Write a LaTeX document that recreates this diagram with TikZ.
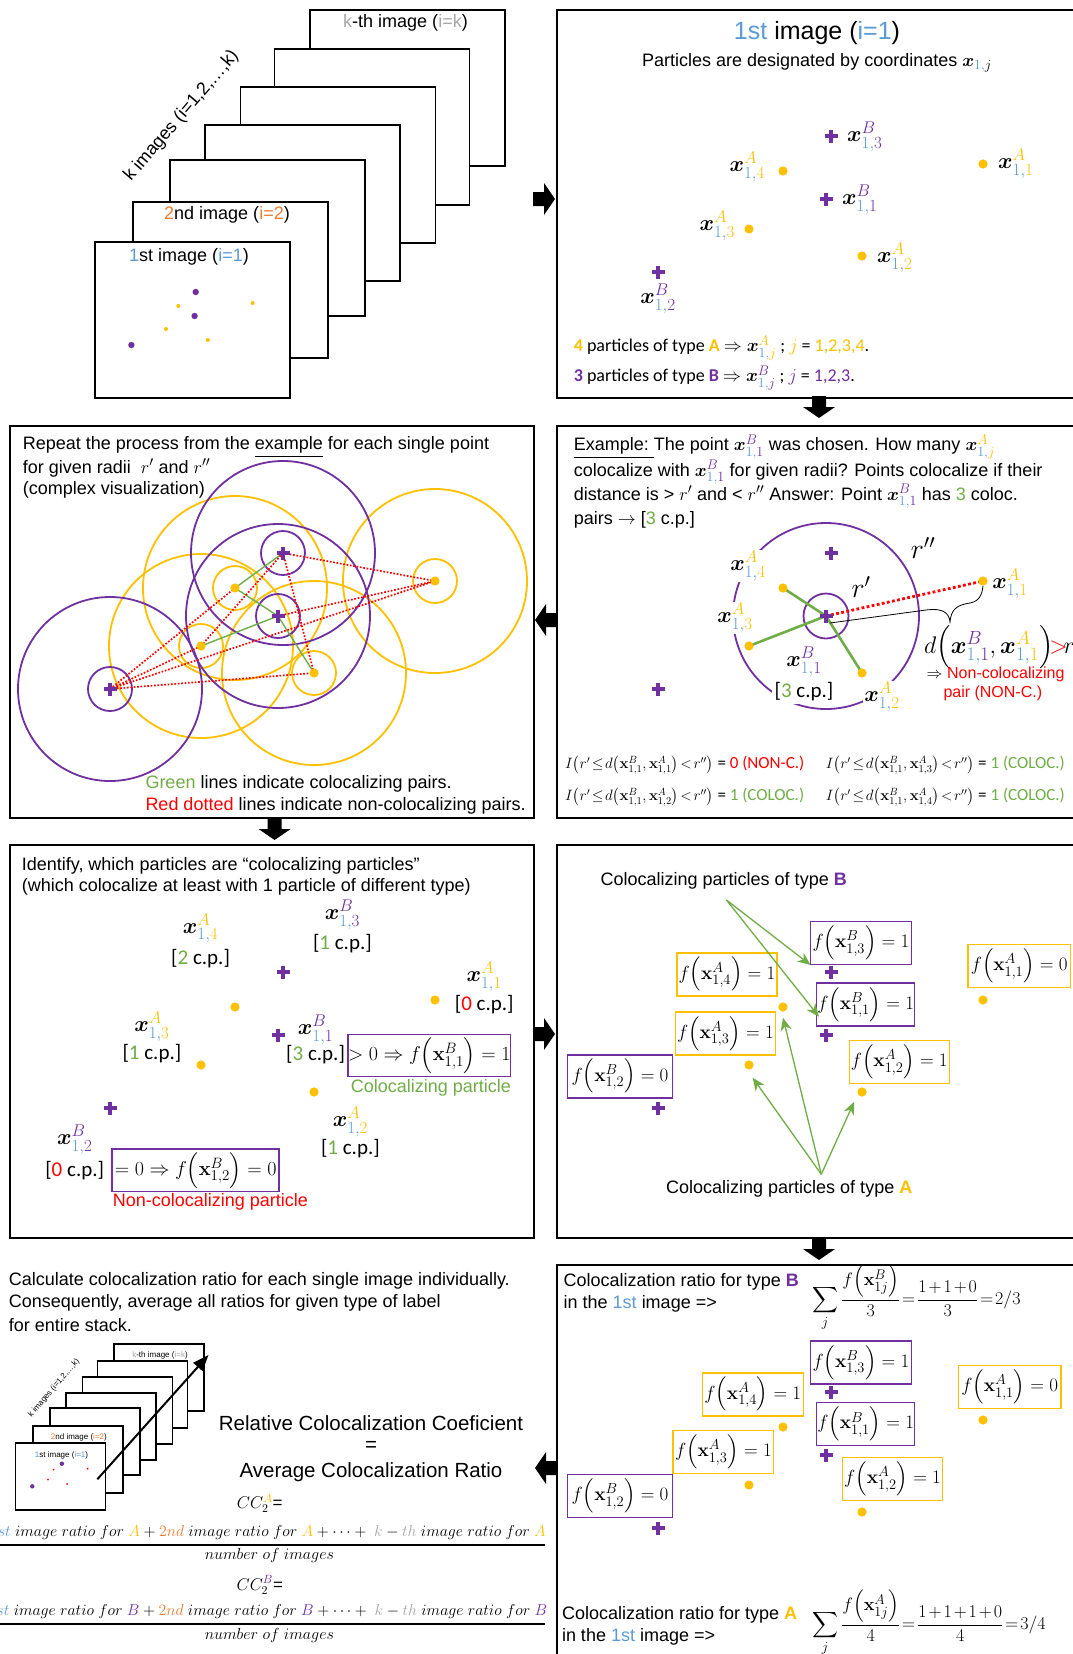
\RequirePackage{fix-cm}
\documentclass[tikz,border=0pt]{standalone}
\usepackage{amsmath,amssymb}
\usepackage[no-math]{fontspec}
\setmainfont{Liberation Sans}
\newfontfamily\calib{Carlito}
\usetikzlibrary{arrows.meta,calc}
\DeclareMathSizes{22}{22}{17}{13}
\DeclareMathSizes{18}{18}{14}{10}
\DeclareMathSizes{24}{24}{19}{14}
\DeclareMathSizes{19}{19}{14.5}{10}
\DeclareMathSizes{20}{20}{15}{11}
\definecolor{cA}{HTML}{FFC000}
\definecolor{cB}{HTML}{7030A0}
\definecolor{cBl}{HTML}{5B9BD5}
\definecolor{cOr}{HTML}{ED7D31}
\definecolor{cG}{HTML}{70AD47}
\definecolor{cGr}{HTML}{A6A6A6}
\definecolor{cR}{HTML}{FF0000}
\newcommand{\fsz}[1]{\fontsize{#1}{#1}\selectfont}
\newcommand{\tight}{\thickmuskip=2mu plus 1mu\medmuskip=2mu plus 1mu}
\newcommand{\xa}[1]{\boldsymbol{x}^{\textcolor{cA}{A}}_{\textcolor{cBl}{1,}\textcolor{cA}{#1}}}
\newcommand{\xb}[1]{\boldsymbol{x}^{\textcolor{cB}{B}}_{\textcolor{cBl}{1,}\textcolor{cB}{#1}}}
\newcommand{\fxa}[2]{$f\!\left(\mathbf{x}^{A}_{1,#1}\right)=#2$}
\newcommand{\fxb}[2]{$f\!\left(\mathbf{x}^{B}_{1,#1}\right)=#2$}
\newcommand{\cpl}[2]{{\calib\fsz{21}[\textcolor{#1}{#2} c.p.]}}
\newcommand{\Iform}[1]{$\tight I\!\left(r'\le d\!\left(\mathbf{x}^{B}_{1,1},\mathbf{x}^{A}_{1,#1}\right)<r''\right)$}
\newcommand{\numer}[2]{$\textcolor{cBl}{1st}\ image\ ratio\ for\ \textcolor{#1}{#2}+\textcolor{cOr}{2nd}\ image\ ratio\ for\ \textcolor{#1}{#2}+\cdots+\ \textcolor{cGr}{k}-\textcolor{cGr}{th}\ image\ ratio\ for\ \textcolor{#1}{#2}$}
\newcommand{\defpts}[1]{%
  \coordinate (#1b1) at (0,0);
  \coordinate (#1b3) at (5,-63);
  \coordinate (#1b2) at (-168,73);
  \coordinate (#1a4) at (-43,-28);
  \coordinate (#1a3) at (-77,30);
  \coordinate (#1a2) at (36,57);
  \coordinate (#1a1) at (157,-35);}
\newcommand{\ptmarks}[1]{%
  \foreach \q in {a1,a2,a3,a4}{\fill[cA] (#1\q) circle (4.6pt);}
  \foreach \q in {b1,b2,b3}{\pic at (#1\q) {plusm};}}
\tikzset{
  txt/.style={inner sep=0pt, anchor=west},
  ctxt/.style={inner sep=0pt, anchor=center},
  panel/.style={draw=black, line width=2pt},
  stackbox/.style={draw=black, fill=white, line width=1.6pt, anchor=north west, inner sep=0pt},
  boxB/.style={draw=cB, line width=1.5pt, fill=white, inner sep=0pt, minimum height=43, font=\fsz{19}},
  boxA/.style={draw=cA, line width=1.5pt, fill=white, inner sep=0pt, minimum height=43, font=\fsz{19}},
  plusm/.pic={\draw[cB, line width=3.8pt] (-6.5,0)--(6.5,0) (0,-6.5)--(0,6.5);},
  blockarrow/.pic={\fill[black] (-22,-7)--(-11,-7)--(-11,-16)--(0,0)--(-11,16)--(-11,7)--(-22,7)--cycle;},
  garrow/.style={cG, line width=1.3pt, -{Stealth[length=13pt,width=11pt]}},
  lbl/.style={inner sep=1pt, font=\fsz{22}},
}
\begin{document}
\begin{tikzpicture}[x=1pt,y=-1pt]
\useasboundingbox (0,0) rectangle (1072,1654);
\fill[white] (0,0) rectangle (1072,1654);

% ================= panel 1: stack of images
\foreach \n/\px/\py in {7/309/9,6/273.5/48,5/239.5/86,4/204/124,3/169/159,2/132/201,1/94/241}
  {\node[stackbox, minimum width=195, minimum height=156] (img\n) at (\px,\py) {};}
\node[ctxt] (ttk) at (405.5,23) {\fsz{18}\textcolor{cGr}{k}-th image (\textcolor{cGr}{i=k})};
\node[ctxt] (tt2) at (227,215) {\fsz{18}\textcolor{cOr}{2}nd image (\textcolor{cOr}{i=2})};
\node[ctxt] (tt1) at (189,257) {\fsz{18}\textcolor{cBl}{1}st image (\textcolor{cBl}{i=1})};
\node[ctxt, rotate=49.4] (kimg) at (181.5,116) {\fsz{18}k images (i=1,2,…,k)};
\fill[cB] (195.7,292) circle (3.2pt) (194.6,316) circle (3.2pt) (131.4,345) circle (3.2pt);
\fill[cA] (178.3,306) circle (2pt) (252.7,303) circle (2pt) (166,329) circle (2pt) (207.9,340) circle (2pt);

% ================= panel 2
\draw[panel] (557,10) rectangle (1085,398);
\node[ctxt] (t2) at (817,33) {\fsz{25}\textcolor{cBl}{1st} image (\textcolor{cBl}{i=1})};
\node[ctxt] (s2) at (817,63) {\fsz{18}Particles are designated by coordinates $\boldsymbol{x}_{\textcolor{cBl}{1,}j}$};
\begin{scope}[shift={(826,199)}]\defpts{p2}\end{scope}
\ptmarks{p2}
\node[lbl, anchor=west] (l2b3) at ($(p2b3)+(15,1)$) {$\xb{3}$};
\node[lbl, anchor=east] (l2a4) at ($(p2a4)+(-17,-4)$) {$\xa{4}$};
\node[lbl, anchor=west] (l2a1) at ($(p2a1)+(14,0)$) {$\xa{1}$};
\node[lbl, anchor=west] (l2b1) at ($(p2b1)+(15,1)$) {$\xb{1}$};
\node[lbl, anchor=east] (l2a3) at ($(p2a3)+(-13,-3)$) {$\xa{3}$};
\node[lbl, anchor=west] (l2a2) at ($(p2a2)+(14,2)$) {$\xa{2}$};
\node[lbl] (l2b2) at ($(p2b2)+(0,27)$) {$\xb{2}$};
\node[txt] (c2a) at (573.6,348) {\calib\fsz{18}\textbf{\textcolor{cA}{4}} particles of type \textbf{\textcolor{cA}{A}} $\Rightarrow \xa{j}$ ; $\textcolor{cA}{j}$ = \textcolor{cA}{1,2,3,4}.};
\node[txt] (c2b) at (573.6,378) {\calib\fsz{18}\textbf{\textcolor{cB}{3}} particles of type \textbf{\textcolor{cB}{B}} $\Rightarrow \xb{j}$ ; $\textcolor{cB}{j}$ = \textcolor{cB}{1,2,3}.};

% ================= panel 3
\draw[panel] (9.7,426) rectangle (534.2,818);
\node[txt] (t3a) at (22.6,447) {\fsz{18}Repeat the process from the \underline{example} for each single point};
\node[txt] (t3b) at (22.6,468) {\fsz{18}for given radii\ \ $r'$ and $r''$};
\node[txt] (t3c) at (22.6,490) {\fsz{18}(complex visualization)};
\begin{scope}[shift={(278,616)}]\defpts{p3}\end{scope}
\foreach \q in {a1,a2,a3,a4} {\draw[cA, line width=1.8pt] (p3\q) circle (22pt) (p3\q) circle (92pt);}
\foreach \q in {b1,b2,b3} {\draw[cB, line width=1.8pt] (p3\q) circle (22pt) (p3\q) circle (92pt);}
\draw[cG, line width=1.4pt] (p3b3)--(p3a4) (p3a4)--(p3b1) (p3b1)--(p3a3) (p3b1)--(p3a2);
\draw[cR, line width=1.7pt, dash pattern=on 1.7pt off 1.7pt] (p3b3)--(p3a1) (p3b3)--(p3a3) (p3b3)--(p3a2) (p3b1)--(p3a1) (p3b2)--(p3a4) (p3b2)--(p3a3) (p3b2)--(p3a1) (p3b2)--(p3a2);
\ptmarks{p3}
\node[txt] (g3) at (145.3,784) {\fsz{18}\textcolor{cG}{Green} lines indicate colocalizing pairs.};
\node[txt] (r3) at (145.3,806) {\fsz{18}\textcolor{cR}{Red dotted} lines indicate non-colocalizing pairs.};

% ================= panel 4
\draw[panel] (557,426) rectangle (1085,818);
\node[txt] (t4a) at (573.6,447) {\fsz{18}\underline{Example:\ }The point $\xb{1}$ was chosen. How many $\xa{j}$};
\node[txt] (t4b) at (573.6,472) {\fsz{18}colocalize with $\xb{1}$ for given radii? Points colocalize if their};
\node[txt] (t4c) at (573.6,496) {\fsz{18}distance is > $r'$ and < $r''$ Answer: Point $\xb{1}$ has \textcolor{cG}{3} coloc.};
\node[txt] (t4d) at (573.6,520) {\fsz{18}pairs $\rightarrow$ [\textcolor{cG}{3} c.p.]};
\begin{scope}[shift={(826,616)}]\defpts{p4}\end{scope}
\draw[cB, line width=1.8pt] (p4b1) circle (93pt);
\draw[cB, line width=1.8pt] (p4b1) circle (22.5pt);
\draw[cG, line width=2.6pt] (p4b1)--(p4a4) (p4b1)--(p4a3) (p4b1)--(p4a2);
\draw[cR, line width=2.8pt, dash pattern=on 2.8pt off 2.4pt] (p4b1)--(p4a1);
\draw[black, line width=0.8pt] ($(p4b1)+(4,7)$) -- (926,610) .. controls (942,608) and (949,612) .. (950,622) .. controls (951,610) and (956,605) .. (970,603) .. controls (980,601) and (982,594) .. ($(p4a1)+(0,5)$);
\node[lbl, fill=white] (l4a4) at (748,566) {$\xa{4}$};
\node[lbl, fill=white] (l4a3) at (735,618) {$\xa{3}$};
\node[lbl] (l4b1) at (804,662) {$\xb{1}$};
\node[inner sep=3pt, fill=white] (l4cp) at (804,692) {\cpl{cG}{3}};
\node[lbl, fill=white] (l4a2) at (882,697) {$\xa{2}$};
\node[lbl] (l4a1) at (1010,584) {$\xa{1}$};
\node[ctxt] (rr2) at (923,548) {\fsz{28}$r''$};
\node[ctxt] (rr1) at (861,587) {\fsz{28}$r'$};
\ptmarks{p4}
\node[txt] (d4) at (924,647) {\fsz{24}$\tight d\Bigl(\xb{1},\xa{1}\Bigr)\!\textcolor{cR}{>}\!r''$};
\node[txt] (n4) at (926.5,674) {\fsz{16}$\Rightarrow$ \textcolor{cR}{Non-colocalizing}};
\node[txt] (n4b) at (943.3,693) {\fsz{16}\textcolor{cR}{pair (NON-C.)}};
\node[txt] (f41) at (565,765) {\fsz{15}\Iform{1}{\calib\fsz{17} = \textcolor{cR}{0 (NON-C.)}}};
\node[txt] (f42) at (825.7,765) {\fsz{15}\Iform{3}{\calib\fsz{17} = \textcolor{cG}{1 (COLOC.)}}};
\node[txt] (f43) at (565,797) {\fsz{15}\Iform{2}{\calib\fsz{17} = \textcolor{cG}{1 (COLOC.)}}};
\node[txt] (f44) at (825.7,797) {\fsz{15}\Iform{4}{\calib\fsz{17} = \textcolor{cG}{1 (COLOC.)}}};

% ================= panel 5
\draw[panel] (9.7,845) rectangle (534.2,1238);
\node[txt] (t5a) at (21.6,866) {\fsz{18}Identify, which particles are “colocalizing particles”};
\node[txt] (t5b) at (21.6,887) {\fsz{18}(which colocalize at least with 1 particle of different type)};
\begin{scope}[shift={(278,1035)}]\defpts{p5}\end{scope}
\ptmarks{p5}
\node[lbl] (l5b3) at (342.4,915) {$\xb{3}$};
\node[ctxt] (c5b3) at (342.4,943.3) {\cpl{cG}{1}};
\node[lbl] (l5a4) at (200.6,928.3) {$\xa{4}$};
\node[ctxt] (c5a4) at (200.6,958.3) {\cpl{cG}{2}};
\node[lbl] (l5a1) at (484.2,976.7) {$\xa{1}$};
\node[ctxt] (c5a1) at (484.2,1005) {\cpl{cR}{0}};
\node[lbl] (l5b1) at (315.6,1030) {$\xb{1}$};
\node[ctxt] (c5b1) at (315.6,1055) {\cpl{cG}{3}};
\node[lbl] (l5a3) at (151.9,1026.7) {$\xa{3}$};
\node[ctxt] (c5a3) at (151.9,1053.3) {\cpl{cG}{1}};
\node[lbl] (l5a2) at (350.4,1121.7) {$\xa{2}$};
\node[ctxt] (c5a2) at (350.4,1148.3) {\cpl{cG}{1}};
\node[lbl] (l5b2) at (74.7,1140) {$\xb{2}$};
\node[ctxt] (c5b2) at (74.7,1171) {\cpl{cR}{0}};
\node[boxB, minimum width=160, minimum height=42.4, font=\fsz{20}] (bx5a) at (429.3,1055.5) {$>0\Rightarrow f\!\left(\mathbf{x}^{B}_{1,1}\right)=1$};
\node[ctxt] (cp5a) at (431,1088.3) {\fsz{18}\textcolor{cG}{Colocalizing particle}};
\node[boxB, minimum width=167, minimum height=42.7, font=\fsz{20}] (bx5b) at (195.7,1170.3) {$=0\Rightarrow f\!\left(\mathbf{x}^{B}_{1,2}\right)=0$};
\node[ctxt] (cp5b) at (210.3,1201.7) {\fsz{18}\textcolor{cR}{Non-colocalizing particle}};

% ================= panel 6
\draw[panel] (557,845) rectangle (1085,1238);
\begin{scope}[shift={(826,1035)}]\defpts{p6}\end{scope}
\ptmarks{p6}
\node[boxB, minimum width=101] (b6b3) at (861,943) {\fxb{3}{1}};
\node[boxA, minimum width=100] (b6a4) at (727,974.3) {\fxa{4}{1}};
\node[boxB, minimum width=98] (b6b1) at (865.7,1004.7) {\fxb{1}{1}};
\node[boxA, minimum width=100] (b6a3) at (725.4,1033.7) {\fxa{3}{1}};
\node[boxB, minimum width=105] (b6b2) at (620.1,1076.3) {\fxb{2}{0}};
\node[boxA, minimum width=100] (b6a2) at (899.3,1062) {\fxa{2}{1}};
\node[boxA, minimum width=102.5] (b6a1) at (1019.2,966) {\fxa{1}{0}};
\node[txt] (cb6) at (600.5,881) {\fsz{18}Colocalizing particles of type \textbf{\textcolor{cB}{B}}};
\coordinate (o6b) at (726.5,900);
\coordinate (t6b3) at (810.5,965);
\coordinate (t6b1) at (819,1016.7);
\draw[garrow] (o6b)--(t6b3);
\draw[garrow] (o6b)--(t6b1);
\node[txt] (ca6) at (666,1189) {\fsz{18}Colocalizing particles of type \textbf{\textcolor{cA}{A}}};
\coordinate (o6a) at (821.3,1174.3);
\coordinate (t6a3) at (752.7,1077.7);
\coordinate (t6a4) at (783,1017.7);
\coordinate (t6a2) at (854.2,1101.7);
\draw[garrow] (o6a)--(t6a3);
\draw[garrow] (o6a)--(t6a4);
\draw[garrow] (o6a)--(t6a2);

% ================= panel 7 (bottom left)
\node[txt] (t7a) at (8.7,1281) {\fsz{18}Calculate colocalization ratio for each single image individually.};
\node[txt] (t7b) at (8.7,1303.3) {\fsz{18}Consequently, average all ratios for given type of label};
\node[txt] (t7c) at (8.7,1325) {\fsz{18}for entire stack.};
\foreach \n/\px/\py in {7/113/1343.3,6/96.6/1360,5/81.7/1376,4/65.3/1392.3,3/49.4/1407.3,2/32/1425,1/14.6/1442.3}
  {\node[stackbox, minimum width=90, minimum height=67] (sim\n) at (\px,\py) {};}
\node[ctxt] (st7) at (160,1355) {\fsz{8}\textcolor{cGr}{k}-th image (\textcolor{cGr}{i=k})};
\node[ctxt] (st2) at (78.9,1437) {\fsz{8}\textcolor{cOr}{2}nd image (\textcolor{cOr}{i=2})};
\node[ctxt] (st1) at (61.5,1455) {\fsz{8}\textcolor{cBl}{1}st image (\textcolor{cBl}{i=1})};
\node[ctxt, rotate=49.3] (skimg) at (54,1388) {\fsz{8}k images (i=1,2,…,k)};
\fill[cB] (61.9,1463.7) circle (2.2pt) (32.3,1486.3) circle (2.2pt);
\fill[cR] (53.5,1469.7) circle (1pt) (87.6,1468.7) circle (1pt) (48,1479.7) circle (1pt) (67.1,1484) circle (1pt);
\coordinate (sa0) at (97.3,1479.3);
\coordinate (sa1) at (208.5,1355);
\draw[line width=2pt, -{Triangle[length=16pt,width=12pt]}] (sa0)--(sa1);
\node[ctxt] (rcc) at (371,1423.3) {\fsz{20.5}Relative Colocalization Coeficient};
\node[ctxt] (req) at (371,1446.7) {\fsz{20.5}=};
\node[ctxt] (acr) at (371,1472.3) {\fsz{20.5}Average Colocalization Ratio};
\node[ctxt] (cca) at (259.8,1503.3) {\fsz{17}$CC_2^{\textcolor{cA}{A}}$=};
\node[ctxt] (nA) at (268,1532.3) {\fsz{15.8}\numer{cA}{A}};
\coordinate (barAl) at (0,1545);
\coordinate (barAr) at (545,1545);
\draw[line width=1.2pt] (barAl)--(barAr);
\node[ctxt] (dA) at (269.4,1555.7) {\fsz{16}$number\ of\ images$};
\node[ctxt] (ccb) at (259.8,1585) {\fsz{17}$CC_2^{\textcolor{cB}{B}}$=};
\node[ctxt] (nB) at (268,1611.7) {\fsz{15.8}\numer{cB}{B}};
\coordinate (barBl) at (0,1624);
\coordinate (barBr) at (545,1624);
\draw[line width=1.2pt] (barBl)--(barBr);
\node[ctxt] (dB) at (269.4,1635) {\fsz{16}$number\ of\ images$};

% ================= panel 8
\draw[panel] (557,1265) rectangle (1085,1670);
\node[txt] (t8a) at (563.5,1281.7) {\fsz{18}Colocalization ratio for type \textbf{\textcolor{cB}{B}}};
\node[txt] (t8b) at (563.5,1304.3) {\fsz{18}in the \textcolor{cBl}{1st} image =>};
\node[inner sep=0pt, anchor=base west] (fm8b) at (812,1304.5) {\fsz{18}$\tight\displaystyle\sum_j\frac{f\!\left(\mathbf{x}^{B}_{1j}\right)}{3}=\frac{1+1+0}{3}=2/3$};
\begin{scope}[shift={(826,1455)}]\defpts{p8}\end{scope}
\ptmarks{p8}
\node[boxB, minimum width=101] (b8b3) at (861,1362.5) {\fxb{3}{1}};
\node[boxA, minimum width=101] (b8a4) at (752.8,1394.3) {\fxa{4}{1}};
\node[boxB, minimum width=98] (b8b1) at (865.7,1424.2) {\fxb{1}{1}};
\node[boxA, minimum width=100.5] (b8a3) at (723.4,1451.8) {\fxa{3}{1}};
\node[boxB, minimum width=105] (b8b2) at (620.1,1496) {\fxb{2}{0}};
\node[boxA, minimum width=100] (b8a2) at (892.6,1478.8) {\fxa{2}{1}};
\node[boxA, minimum width=102.5] (b8a1) at (1009.7,1387) {\fxa{1}{0}};
\node[txt] (t8c) at (561.8,1615) {\fsz{18}Colocalization ratio for type \textbf{\textcolor{cA}{A}}};
\node[txt] (t8d) at (561.8,1636.7) {\fsz{18}in the \textcolor{cBl}{1st} image =>};
\node[inner sep=0pt, anchor=base west] (fm8a) at (812,1629.5) {\fsz{18}$\tight\displaystyle\sum_j\frac{f\!\left(\mathbf{x}^{A}_{1j}\right)}{4}=\frac{1+1+1+0}{4}=3/4$};

% ================= block arrows between panels
\pic at (555,199) {blockarrow};
\pic[rotate=-90] at (819,418) {blockarrow};
\pic[rotate=180] at (535,620) {blockarrow};
\pic[rotate=-90] at (274.6,840) {blockarrow};
\pic at (555,1034) {blockarrow};
\pic[rotate=-90] at (819,1260) {blockarrow};
\pic[rotate=180] at (535,1468) {blockarrow};
\end{tikzpicture}
\end{document}
